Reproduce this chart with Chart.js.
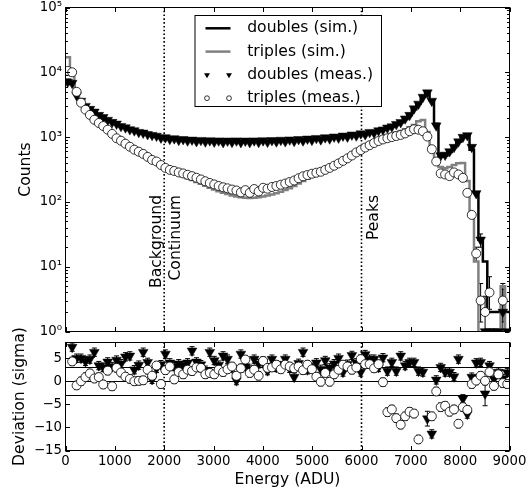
<!DOCTYPE html>
<html><head><meta charset="utf-8">
<script src="https://cdn.jsdelivr.net/npm/chart.js@4/dist/chart.umd.min.js"></script>
<style>
html,body{margin:0;padding:0;background:#fff;}
#wrap{position:relative;width:532px;height:495px;background:#fff;}
canvas{position:absolute;left:0;top:0;}
</style></head><body>
<div id="wrap"><canvas id="c1" width="532" height="495"></canvas><canvas id="c2" width="532" height="495"></canvas></div>
<script>
// ---------------- data ----------------
const energies = [45,135,225,315,405,495,585,675,765,855,945,1035,1125,1215,1305,1395,1485,1575,1665,1755,
1845,1935,2025,2115,2205,2295,2385,2475,2565,2655,2745,2835,2925,3015,3105,3195,3285,3375,3465,3555,
3645,3735,3825,3915,4005,4095,4185,4275,4365,4455,4545,4635,4725,4815,4905,4995,5085,5175,5265,5355,
5445,5535,5625,5715,5805,5895,5985,6075,6165,6255,6345,6435,6525,6615,6705,6795,6885,6975,7065,7155,
7245,7335,7425,7515,7605,7695,7785,7875,7965,8055,8145,8235,8325,8415,8505,8595,8685,8775,8865,8955];

const simDoubles = [7700,6600,4600,3650,3050,2700,2430,2200,2010,1840,
1710,1590,1490,1400,1320,1255,1200,1150,1105,1065,
1025,990,965,945,930,915,905,895,888,880,
875,870,866,862,859,856,854,852,851,850,
850,851,852,854,857,860,864,868,873,878,
884,890,898,906,915,925,936,948,961,975,
990,1005,1022,1040,1060,1082,1105,1132,1162,1200,
1250,1310,1380,1460,1560,1700,1900,2200,2700,3300,
4200,4900,3700,1600,500,520,590,700,850,1020,
1080,640,140,26,12,2,2,2,2,2];

const simTriples = [17000,9000,4800,3300,2550,2100,1780,1580,1420,1250,
1080,930,850,760,680,615,570,525,475,430,
400,355,320,295,280,262,248,232,218,203,
190,177,165,155,146,138,132,126,121,118,
116,115,116,118,121,125,130,136,143,152,
163,176,192,210,228,246,264,282,305,332,
365,402,445,495,550,615,680,750,820,890,
950,1010,1065,1120,1180,1240,1320,1420,1540,1760,
1830,1200,700,440,345,330,345,370,395,400,
210,63,12,0.5,0.5,0.5,0.5,0.5,5,0.5];

const measDoubles = [7100,6800,4400,3600,3000,2700,2450,2180,2020,1830,
1700,1600,1470,1400,1310,1260,1190,1160,1100,1070,
1040,975,985,930,950,900,925,880,905,860,
895,850,885,845,880,830,875,835,880,830,
875,830,880,835,885,840,890,850,900,855,
910,865,925,880,940,900,960,915,985,945,
1010,975,1045,1010,1085,1050,1130,1095,1190,1165,
1260,1300,1390,1450,1580,1690,1920,2180,2750,3250,
4150,4850,3600,1500,520,530,600,700,850,1000,
1060,700,135,26,1,1,1,1,2,1];

const measTriples = [10500,10000,5000,3400,2650,2200,1850,1650,1480,1300,
1120,960,880,790,710,640,595,550,495,445,
420,370,335,312,300,285,275,262,250,236,
222,208,196,186,176,168,162,155,150,140,
152,138,158,145,165,160,170,176,184,192,
203,214,232,248,260,272,282,292,312,335,
362,392,430,470,520,580,630,690,750,810,
870,920,960,1000,1040,1080,1140,1230,1320,1300,
1230,1020,650,420,275,265,250,285,265,235,
138,63,16,3,2,4,null,null,3,null];

// visible count error bars in the sparse tail: bin index -> [low, high]
const tailErrTriples = {92:[12,20], 93:[1.4,5.5], 94:[1,3.5], 95:[2.2,7], 98:[1.4,5.5]};
const tailErrDoubles = {93:[20,32], 98:[1,4.5]};

const devDoubles = [null,7.4,5.0,5.0,4.3,4.8,6.3,3.4,3.0,4.2,
3.2,4.6,3.8,5.3,5.5,2.5,3.5,6.3,4.1,0.4,
2.8,3.6,5.9,4.0,3.2,3.8,3.4,4.0,6.6,4.2,
3.6,2.4,6.3,4.5,3.5,5.5,4.8,2.9,0.15,5.9,
3.2,2.6,4.8,3.8,4.2,2.3,4.8,3.0,3.4,4.8,
2.8,0.9,3.9,6.3,2.5,3.0,4.0,2.6,4.5,2.9,
3.8,5.0,2.0,3.7,5.6,4.0,2.0,5.8,4.8,4.8,
3.0,5.1,2.2,4.1,2.2,5.5,3.4,4.1,4.1,2.2,
2.0,-8.1,-11.4,0.3,3.0,2.0,2.0,1.0,4.8,-3.8,
-7.1,0.9,4.0,4.1,-2.7,3.4,0.5,2.0,0.6,1.9];

const devTriples = [null,4.3,-0.9,0.0,0.9,1.7,0.6,0.9,-0.7,2.3,
-1.1,2.9,1.9,1.0,0.5,0.0,0.1,0.2,2.5,1.2,
3.4,-0.6,2.4,3.2,0.4,2.0,1.5,2.5,2.2,3.0,
2.9,1.5,1.8,1.5,2.5,2.0,2.6,3.2,1.2,2.8,
4.7,1.8,2.5,1.2,4.4,2.9,3.0,3.6,2.6,3.6,
3.2,2.8,3.2,2.4,3.6,2.6,1.0,-0.1,1.8,-0.1,
1.5,2.5,3.6,3.2,2.5,3.0,4.8,3.7,3.7,2.8,
3.7,-0.2,-6.7,-6.1,-8.0,-9.4,-7.6,-6.6,-7.0,-12.6,
null,null,-7.6,-2.2,-5.6,-5.3,-6.6,-6.1,-9.2,-5.6,
-6.2,-0.6,0.15,1.2,0.1,2.0,-1.0,1.5,-0.4,-0.6];

// error bar half-lengths in sigma units (default), larger ones listed by bin index
const devErrDefault = 0.9;
const devErrDoublesBig = {81: 1.6, 94: 2.6};

const logTicks = [1, 10, 100, 1000, 10000, 100000];
const devTicks = [-15, -10, -5, 0, 5];
const energyTicks = [0,1000,2000,3000,4000,5000,6000,7000,8000,9000];
const regionLines = [2000, 6000];
const devBands = [-3, 0, 3];
const legendLabels = ['doubles (sim.)', 'triples (sim.)', 'doubles (meas.)', 'triples (meas.)'];

// ---------------- helpers ----------------
const FONT = 'DejaVu Sans';
Chart.defaults.font.family = FONT;
Chart.defaults.font.size = 13.3;
Chart.defaults.color = '#000';
const TRI_R = 5.6, CIRC_R = 4.5;

const supMap = {'0':'⁰','1':'¹','2':'²','3':'³','4':'⁴','5':'⁵','6':'⁶','7':'⁷','8':'⁸','9':'⁹','-':'⁻'};
function decadeLabel(v){ const e = Math.round(Math.log10(v)); return '10' + String(e).split('').map(c=>supMap[c]).join(''); }
function minus(v){ return String(v).replace('-', '\u2212'); }
function pts(arr){ return energies.map((e,i)=>({x:e, y:arr[i]})); }
function stepData(arr){ return [{x:0, y:arr[0]}].concat(pts(arr), [{x:9000, y:arr[arr.length-1]}]); }
function fixAxis(size, dim){ return function(a){ a[dim]=size; a.paddingLeft=0; a.paddingRight=0; a.paddingTop=0; a.paddingBottom=0; }; }

function errBar(ctx, px, y0, y1, cap){
  ctx.beginPath(); ctx.moveTo(px,y0); ctx.lineTo(px,y1);
  ctx.moveTo(px-cap,y0); ctx.lineTo(px+cap,y0); ctx.moveTo(px-cap,y1); ctx.lineTo(px+cap,y1); ctx.stroke();
}
function drawFrame(chart, xt, yt, yMinor){
  const {ctx, chartArea:{left,right,top,bottom}, scales:{x,y}} = chart;
  ctx.save();
  ctx.strokeStyle = '#000'; ctx.lineWidth = 1;
  ctx.strokeRect(left, top, right-left, bottom-top);
  ctx.beginPath();
  const L = 4.5, l = 2.5;
  xt.forEach(v=>{ const p = Math.round(x.getPixelForValue(v))+0.5; ctx.moveTo(p,bottom); ctx.lineTo(p,bottom-L); ctx.moveTo(p,top); ctx.lineTo(p,top+L); });
  yt.forEach(v=>{ const p = Math.round(y.getPixelForValue(v))+0.5; ctx.moveTo(left,p); ctx.lineTo(left+L,p); ctx.moveTo(right,p); ctx.lineTo(right-L,p); });
  (yMinor||[]).forEach(v=>{ const p = Math.round(y.getPixelForValue(v))+0.5; ctx.moveTo(left,p); ctx.lineTo(left+l,p); ctx.moveTo(right,p); ctx.lineTo(right-l,p); });
  ctx.stroke();
  ctx.restore();
}
function drawRegionLines(chart){
  const {ctx, chartArea:{top,bottom}, scales:{x}} = chart;
  ctx.save(); ctx.strokeStyle='#000'; ctx.lineWidth=1.6; ctx.setLineDash([1.6,2.2]);
  regionLines.forEach(v=>{ const p = x.getPixelForValue(v); ctx.beginPath(); ctx.moveTo(p,bottom); ctx.lineTo(p,top); ctx.stroke(); });
  ctx.restore();
}
function rotText(ctx, text, x, y, align){
  ctx.save(); ctx.translate(x,y); ctx.rotate(-Math.PI/2);
  ctx.textAlign = align; ctx.textBaseline='middle'; ctx.fillText(text,0,0); ctx.restore();
}

const minorLog = [];
logTicks.slice(0,-1).forEach(d=>{ for(let k=2;k<10;k++) minorLog.push(d*k); });

// ---------------- top panel ----------------
const topPlugin = {
  id:'topDeco',
  beforeDatasetsDraw(chart){
    const {ctx, chartArea:{left,right,top,bottom}, scales:{x,y}} = chart;
    drawRegionLines(chart);
    ctx.save(); ctx.beginPath(); ctx.rect(left,top,right-left,bottom-top); ctx.clip();
    ctx.strokeStyle='#000'; ctx.lineWidth=1;
    [tailErrTriples, tailErrDoubles].forEach(m=>{
      Object.keys(m).forEach(k=>{ const [lo,hi] = m[k]; errBar(ctx, x.getPixelForValue(energies[k]), y.getPixelForValue(lo), y.getPixelForValue(hi), 2.5); });
    });
    ctx.restore();
  },
  afterDatasetsDraw(chart){
    const {ctx, chartArea, scales:{x,y}} = chart;
    drawFrame(chart, energyTicks, logTicks, minorLog);
    ctx.save(); ctx.fillStyle='#000'; ctx.font = '15.6px "'+FONT+'"';
    const yEnd = y.getPixelForValue(128);
    rotText(ctx, 'Background', x.getPixelForValue(2000)-7, yEnd, 'right');
    rotText(ctx, 'Continuum', x.getPixelForValue(2000)+11.3, yEnd, 'right');
    rotText(ctx, 'Peaks', x.getPixelForValue(6000)+12, yEnd, 'right');
    ctx.restore();
    // legend
    const bx = chartArea.left + 129, by = chartArea.top + 7.5, bw = 186.5, bh = 91;
    ctx.save();
    ctx.fillStyle='#fff'; ctx.fillRect(bx,by,bw,bh);
    ctx.strokeStyle='#000'; ctx.lineWidth=1; ctx.strokeRect(bx+0.5,by+0.5,bw,bh);
    ctx.font = '15.6px "'+FONT+'"'; ctx.textBaseline='middle'; ctx.textAlign='left';
    legendLabels.forEach((lab,i)=>{
      const cy = by + 13.3 + i*23.3;
      const x0 = bx + 11, x1 = bx + 36;
      if (i < 2){
        ctx.strokeStyle = i===0 ? '#000' : '#808080'; ctx.lineWidth = 2.5;
        ctx.beginPath(); ctx.moveTo(x0,cy); ctx.lineTo(x1,cy); ctx.stroke();
      } else if (i===2){
        ctx.fillStyle='#000';
        [x0+1.5, x1-1.5].forEach(cx=>{ const r=3.4; ctx.beginPath(); ctx.moveTo(cx,cy+r); ctx.lineTo(cx-r*0.866,cy-r/2); ctx.lineTo(cx+r*0.866,cy-r/2); ctx.closePath(); ctx.fill(); });
      } else {
        ctx.strokeStyle='#000'; ctx.lineWidth=0.8; ctx.fillStyle='#fff';
        [x0+1.5, x1-1.5].forEach(cx=>{ ctx.beginPath(); ctx.arc(cx,cy,2.4,0,Math.PI*2); ctx.fill(); ctx.stroke(); });
      }
      ctx.fillStyle='#000';
      ctx.fillText(lab, bx + 52.7, cy);
    });
    ctx.restore();
  }
};

new Chart(document.getElementById('c1'), {
  type:'line',
  data:{datasets:[
    {label:legendLabels[0], data:stepData(simDoubles), borderColor:'#000', borderWidth:2.5, stepped:'middle', pointRadius:0, fill:false, order:4, clip:0},
    {label:legendLabels[1], data:stepData(simTriples), borderColor:'#808080', borderWidth:2.5, stepped:'middle', pointRadius:0, fill:false, order:3, clip:0},
    {label:legendLabels[2], data:pts(measDoubles), showLine:false, pointStyle:'triangle', pointRotation:180, pointRadius:TRI_R, pointBackgroundColor:'#000', pointBorderColor:'#000', pointBorderWidth:0.5, order:2, clip:0},
    {label:legendLabels[3], data:pts(measTriples), showLine:false, pointStyle:'circle', pointRadius:CIRC_R, pointBackgroundColor:'#fff', pointBorderColor:'#000', pointBorderWidth:0.8, order:1, clip:0}
  ]},
  options:{
    responsive:false, animation:false, events:[],
    layout:{padding:{left:5, top:7.5, right:22.5, bottom:163.5}},
    plugins:{legend:{display:false}, tooltip:{enabled:false}},
    scales:{
      x:{type:'linear', min:0, max:9000, ticks:{display:false}, grid:{display:false, drawTicks:false}, border:{display:false}, afterFit:fixAxis(0,'height')},
      y:{type:'logarithmic', min:1, max:100000,
         afterBuildTicks:a=>{ a.ticks = logTicks.map(v=>({value:v})); },
         ticks:{callback:v=>decadeLabel(v), padding:3.5, autoSkip:false, font:{size:13.3}},
         grid:{display:false, drawTicks:false}, border:{display:false},
         title:{display:true, text:'Counts', font:{size:15.6}, padding:{top:11.5, bottom:0}},
         afterFit:fixAxis(60.5,'width')}
    }
  },
  plugins:[topPlugin]
});

// ---------------- bottom panel ----------------
const botPlugin = {
  id:'botDeco',
  beforeDatasetsDraw(chart){
    const {ctx, chartArea:{left,right}, scales:{x,y}} = chart;
    drawRegionLines(chart);
    ctx.save(); ctx.strokeStyle='#000'; ctx.lineWidth=1;
    devBands.forEach(v=>{ const p = Math.round(y.getPixelForValue(v))+0.5; ctx.beginPath(); ctx.moveTo(left,p); ctx.lineTo(right,p); ctx.stroke(); });
    [[devDoubles, devErrDoublesBig],[devTriples, {}]].forEach(([arr, big])=>{
      arr.forEach((v,i)=>{
        if (v===null) return;
        const e = big[i] || devErrDefault;
        errBar(ctx, x.getPixelForValue(energies[i]), y.getPixelForValue(v-e), y.getPixelForValue(v+e), 2.5);
      });
    });
    ctx.restore();
  },
  afterDatasetsDraw(chart){
    const {ctx, chartArea:{top,bottom}} = chart;
    drawFrame(chart, energyTicks, devTicks, []);
    ctx.save(); ctx.fillStyle='#000'; ctx.font='15.6px "'+FONT+'"';
    rotText(ctx, 'Deviation (sigma)', 19.5, (top+bottom)/2, 'center');
    ctx.restore();
  }
};

new Chart(document.getElementById('c2'), {
  type:'line',
  data:{datasets:[
    {label:legendLabels[2], data:pts(devDoubles), showLine:false, pointStyle:'triangle', pointRotation:180, pointRadius:TRI_R, pointBackgroundColor:'#000', pointBorderColor:'#000', pointBorderWidth:0.5, order:2, clip:0},
    {label:legendLabels[3], data:pts(devTriples), showLine:false, pointStyle:'circle', pointRadius:CIRC_R, pointBackgroundColor:'#fff', pointBorderColor:'#000', pointBorderWidth:0.8, order:1, clip:0}
  ]},
  options:{
    responsive:false, animation:false, events:[],
    layout:{padding:{left:5, top:342.5, right:22.5, bottom:0}},
    plugins:{legend:{display:false}, tooltip:{enabled:false}},
    scales:{
      x:{type:'linear', min:0, max:9000,
         afterBuildTicks:a=>{ a.ticks = energyTicks.map(v=>({value:v})); },
         ticks:{callback:v=>String(v), padding:3.2, autoSkip:false, maxRotation:0, font:{size:13.3}},
         grid:{display:false, drawTicks:false}, border:{display:false},
         title:{display:true, text:'Energy (ADU)', font:{size:15.6}, padding:{top:0, bottom:5.6}},
         afterFit:fixAxis(44.5,'height')},
      y:{type:'linear', min:-15, max:8.4,
         afterBuildTicks:a=>{ a.ticks = devTicks.map(v=>({value:v})); },
         ticks:{callback:v=>minus(v), padding:3.5, autoSkip:false, font:{size:13.3}},
         grid:{display:false, drawTicks:false}, border:{display:false},
         afterFit:fixAxis(60.5,'width')}
    }
  },
  plugins:[botPlugin]
});
</script>
</body></html>
